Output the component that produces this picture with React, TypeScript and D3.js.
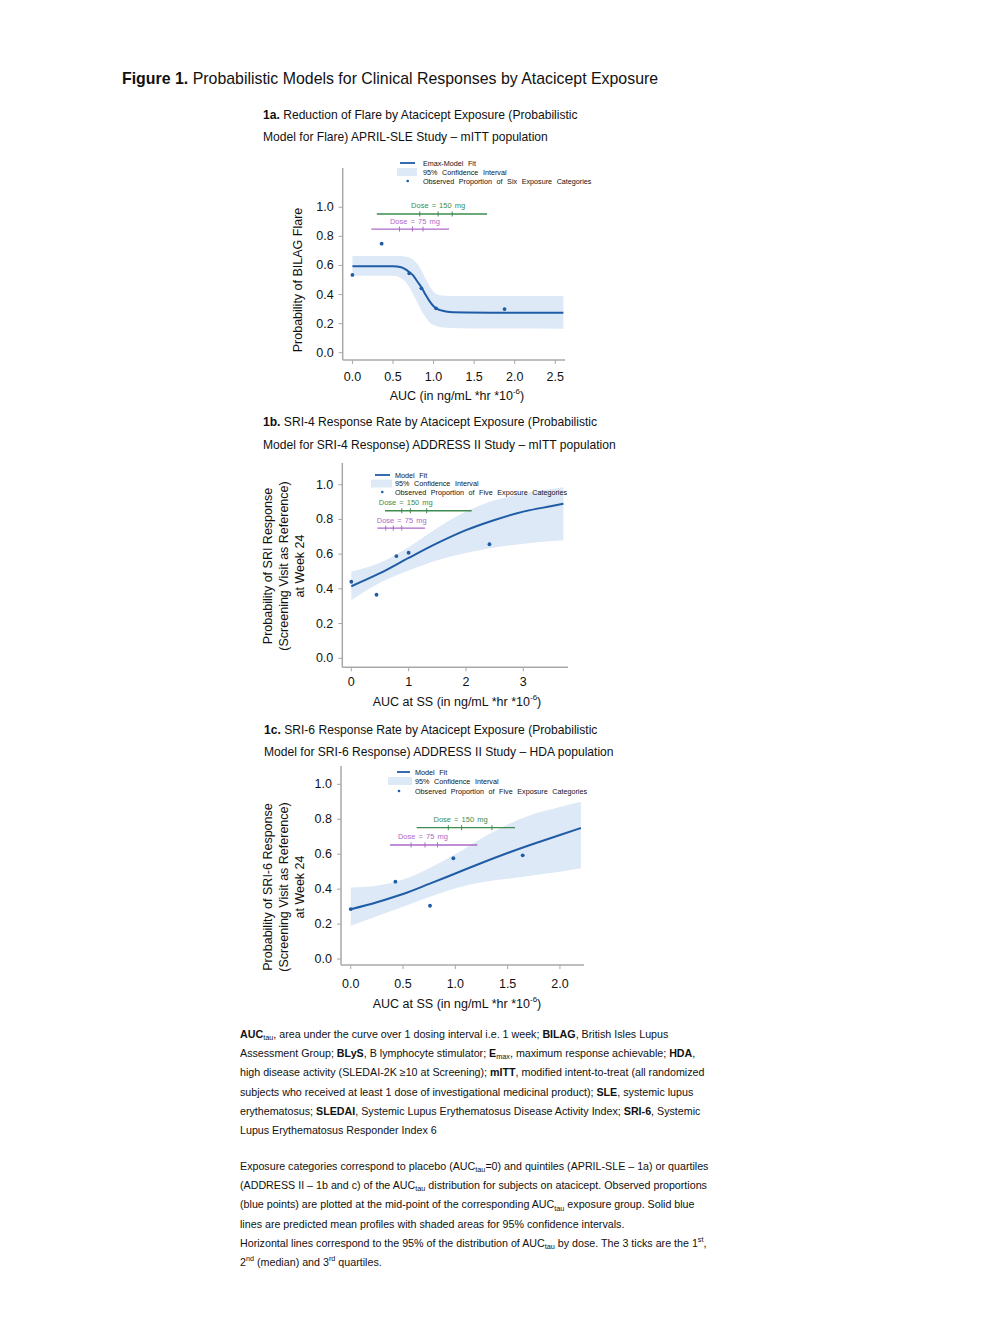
import React from "react";
import * as d3 from "d3";

const FONT = "'Liberation Sans', Arial, Helvetica, sans-serif";
const BLUE = "#1f5ca6";
const BAND = "#dde9f6";
const GREEN = "#3d8b4f";
const PURPLE = "#ad6ac9";
const AXIS = "#a8a8a8";

const yTicks = [0, 0.2, 0.4, 0.6, 0.8, 1.0];

// ---- 1a: flare, APRIL-SLE ----
const flareXTicks = [0, 0.5, 1, 1.5, 2, 2.5];
const flareFitX = [0, 0.3, 0.5, 0.6, 0.65, 0.7, 0.75, 0.8, 0.85, 0.9, 0.95, 1.0, 1.05, 1.1, 1.2, 1.4, 2.0, 2.6];
const flareFit = [0.595, 0.595, 0.595, 0.588, 0.575, 0.555, 0.53, 0.49, 0.45, 0.4, 0.355, 0.32, 0.3, 0.29, 0.28, 0.277, 0.275, 0.275];
const flareBandX = [0, 0.5, 0.55, 0.6, 0.65, 0.7, 0.75, 0.8, 0.85, 0.9, 0.95, 1.0, 1.05, 1.1, 1.2, 1.5, 2.6];
const flareBandLo = [0.53, 0.53, 0.525, 0.51, 0.49, 0.45, 0.4, 0.345, 0.29, 0.245, 0.21, 0.19, 0.18, 0.175, 0.17, 0.167, 0.165];
const flareBandHi = [0.665, 0.665, 0.665, 0.665, 0.662, 0.655, 0.64, 0.61, 0.565, 0.51, 0.46, 0.42, 0.4, 0.393, 0.39, 0.39, 0.39];
const flareObsX = [0, 0.36, 0.7, 0.85, 1.03, 1.875];
const flareObsY = [0.535, 0.75, 0.546, 0.443, 0.305, 0.3];
// 2.5%, Q1, median, Q3, 97.5% of AUC by dose
const flareDose150 = [0.3, 0.83, 1.056, 1.23, 1.66];
const flareDose75 = [0.233, 0.58, 0.74, 0.87, 1.19];

// ---- 1b: SRI-4, ADDRESS II mITT ----
const sri4XTicks = [0, 1, 2, 3];
const sri4FitX = [0, 0.5, 1, 1.5, 2, 2.5, 3, 3.5, 3.7];
const sri4Fit = [0.415, 0.49, 0.578, 0.663, 0.738, 0.797, 0.845, 0.877, 0.89];
const sri4BandLo = [0.335, 0.435, 0.505, 0.565, 0.607, 0.638, 0.66, 0.675, 0.68];
const sri4BandHi = [0.5, 0.55, 0.64, 0.75, 0.845, 0.91, 0.95, 0.975, 0.985];
const sri4ObsX = [0, 0.44, 0.786, 1.0, 2.41];
const sri4ObsY = [0.441, 0.366, 0.589, 0.608, 0.657];
const sri4Dose150 = [0.588, 0.88, 1.03, 1.315, 2.1];
const sri4Dose75 = [0.454, 0.6, 0.733, 0.88, 1.286];

// ---- 1c: SRI-6, ADDRESS II HDA ----
const sri6XTicks = [0, 0.5, 1, 1.5, 2];
const sri6FitX = [0, 0.25, 0.5, 0.75, 1.0, 1.25, 1.5, 1.75, 2.0, 2.2];
const sri6Fit = [0.285, 0.325, 0.372, 0.43, 0.49, 0.55, 0.607, 0.66, 0.71, 0.75];
const sri6BandLo = [0.19, 0.245, 0.3, 0.355, 0.405, 0.44, 0.46, 0.48, 0.5, 0.52];
const sri6BandHi = [0.41, 0.42, 0.455, 0.52, 0.6, 0.69, 0.77, 0.83, 0.87, 0.9];
const sri6ObsX = [0, 0.427, 0.758, 0.981, 1.644];
const sri6ObsY = [0.286, 0.443, 0.305, 0.577, 0.594];
const sri6Dose150 = [0.63, 0.933, 1.06, 1.35, 1.57];
const sri6Dose75 = [0.376, 0.577, 0.71, 0.83, 1.21];

const footnotes1 = [
  "*AUC*_{tau}, area under the curve over 1 dosing interval i.e. 1 week; *BILAG*, British Isles Lupus",
  "Assessment Group; *BLyS*, B lymphocyte stimulator; *E*_{max}, maximum response achievable; *HDA*,",
  "high disease activity (SLEDAI-2K \u226510 at Screening); *mITT*, modified intent-to-treat (all randomized",
  "subjects who received at least 1 dose of investigational medicinal product); *SLE*, systemic lupus",
  "erythematosus; *SLEDAI*, Systemic Lupus Erythematosus Disease Activity Index; *SRI-6*, Systemic",
  "Lupus Erythematosus Responder Index 6",
];
const footnotes2 = [
  "Exposure categories correspond to placebo (AUC_{tau}=0) and quintiles (APRIL-SLE \u2013 1a) or quartiles",
  "(ADDRESS II \u2013 1b and c) of the AUC_{tau} distribution for subjects on atacicept. Observed proportions",
  "(blue points) are plotted at the mid-point of the corresponding AUC_{tau} exposure group. Solid blue",
  "lines are predicted mean profiles with shaded areas for 95% confidence intervals.",
  "Horizontal lines correspond to the 95% of the distribution of AUC_{tau} by dose. The 3 ticks are the 1^{st},",
  "2^{nd} (median) and 3^{rd} quartiles.",
];

function Rich({ text, x, y, size }: { text: string; x: number; y: number; size: number }) {
  const parts = text.split(/(\*[^*]+\*|_\{[^}]+\}|\^\{[^}]+\})/).filter((p) => p !== "");
  let shift = 0;
  return (
    <text x={x} y={y} fontSize={size} fontFamily={FONT} dominantBaseline="central" fill="#111">
      {parts.map((p, i) => {
        let dy = 0;
        if (p.startsWith("_{") || p.startsWith("^{")) {
          const off = p.startsWith("_") ? size * 0.3 : -size * 0.38;
          dy = off - shift;
          shift = off;
          return (
            <tspan key={i} dy={dy} fontSize={size * 0.68}>
              {p.slice(2, -1)}
            </tspan>
          );
        }
        dy = -shift;
        shift = 0;
        if (p.startsWith("*")) {
          return (
            <tspan key={i} dy={dy} fontWeight="bold">
              {p.slice(1, -1)}
            </tspan>
          );
        }
        return (
          <tspan key={i} dy={dy}>
            {p}
          </tspan>
        );
      })}
    </text>
  );
}

interface PanelCfg {
  xDomain: [number, number];
  xRange: [number, number];
  yDomain: [number, number];
  yRange: [number, number];
  xTicks: number[];
  xFmt: string;
  xTickDy: number;
  fitX: number[];
  fit: number[];
  bandX: number[];
  bandLo: number[];
  bandHi: number[];
  obsX: number[];
  obsY: number[];
  doses: { q: number[]; y: number; labelX: number; label: string; color: string }[];
  legend: { lineX: [number, number]; bandX: [number, number]; dotX: number; textX: number; rows: number[]; labels: string[] };
  yLabel: string[];
  yLabelX: number[];
  yLabelY: number;
  xLabelPre: string;
  xLabelY: number;
}

const panels: PanelCfg[] = [
  {
    xDomain: [-0.12, 2.62],
    xRange: [342.7, 565],
    yDomain: [-0.05, 1.27],
    yRange: [360, 168],
    xTicks: flareXTicks,
    xFmt: ".1f",
    xTickDy: 17,
    fitX: flareFitX,
    fit: flareFit,
    bandX: flareBandX,
    bandLo: flareBandLo,
    bandHi: flareBandHi,
    obsX: flareObsX,
    obsY: flareObsY,
    doses: [
      { q: flareDose150, y: 0.954, labelX: 1.056, label: "Dose = 150 mg", color: GREEN },
      { q: flareDose75, y: 0.85, labelX: 0.77, label: "Dose = 75 mg", color: PURPLE },
    ],
    legend: {
      lineX: [400, 415],
      bandX: [397, 417],
      dotX: 407.7,
      textX: 423,
      rows: [163, 172, 181],
      labels: ["Emax-Model Fit", "95% Confidence Interval", "Observed Proportion of Six Exposure Categories"],
    },
    yLabel: ["Probability of BILAG Flare"],
    yLabelX: [298],
    yLabelY: 280,
    xLabelPre: "AUC (in ng/mL *hr *10",
    xLabelY: 396,
  },
  {
    xDomain: [-0.157, 3.78],
    xRange: [342.3, 568],
    yDomain: [-0.052, 1.125],
    yRange: [667.3, 463],
    xTicks: sri4XTicks,
    xFmt: "d",
    xTickDy: 15,
    fitX: sri4FitX,
    fit: sri4Fit,
    bandX: sri4FitX,
    bandLo: sri4BandLo,
    bandHi: sri4BandHi,
    obsX: sri4ObsX,
    obsY: sri4ObsY,
    doses: [
      { q: sri4Dose150, y: 0.85, labelX: 0.95, label: "Dose = 150 mg", color: GREEN },
      { q: sri4Dose75, y: 0.75, labelX: 0.88, label: "Dose = 75 mg", color: PURPLE },
    ],
    legend: {
      lineX: [375, 390],
      bandX: [371, 392],
      dotX: 382.3,
      textX: 395,
      rows: [475, 483.5, 492],
      labels: ["Model Fit", "95% Confidence Interval", "Observed Proportion of Five Exposure Categories"],
    },
    yLabel: ["Probability of SRI Response", "(Screening Visit as Reference)", "at Week 24"],
    yLabelX: [268, 284, 300],
    yLabelY: 566,
    xLabelPre: "AUC at SS (in ng/mL *hr *10",
    xLabelY: 702,
  },
  {
    xDomain: [-0.093, 2.23],
    xRange: [341, 584],
    yDomain: [-0.034, 1.105],
    yRange: [965, 766],
    xTicks: sri6XTicks,
    xFmt: ".1f",
    xTickDy: 19,
    fitX: sri6FitX,
    fit: sri6Fit,
    bandX: sri6FitX,
    bandLo: sri6BandLo,
    bandHi: sri6BandHi,
    obsX: sri6ObsX,
    obsY: sri6ObsY,
    doses: [
      { q: sri6Dose150, y: 0.752, labelX: 1.05, label: "Dose = 150 mg", color: GREEN },
      { q: sri6Dose75, y: 0.653, labelX: 0.69, label: "Dose = 75 mg", color: PURPLE },
    ],
    legend: {
      lineX: [397, 410],
      bandX: [388, 412],
      dotX: 399,
      textX: 415,
      rows: [772, 781, 791],
      labels: ["Model Fit", "95% Confidence Interval", "Observed Proportion of Five Exposure Categories"],
    },
    yLabel: ["Probability of SRI-6 Response", "(Screening Visit as Reference)", "at Week 24"],
    yLabelX: [268, 284, 300],
    yLabelY: 887,
    xLabelPre: "AUC at SS (in ng/mL *hr *10",
    xLabelY: 1004,
  },
];

function Panel({ cfg }: { cfg: PanelCfg }) {
  const x = d3.scaleLinear().domain(cfg.xDomain).range(cfg.xRange);
  const y = d3.scaleLinear().domain(cfg.yDomain).range(cfg.yRange);
  const fmtX = d3.format(cfg.xFmt);
  const fmtY = d3.format(".1f");

  const fitLine = d3
    .line<number>()
    .x((_, i) => x(cfg.fitX[i]))
    .y((d) => y(d))
    .curve(d3.curveMonotoneX);
  const band = d3
    .area<number>()
    .x((_, i) => x(cfg.bandX[i]))
    .y0((_, i) => y(cfg.bandLo[i]))
    .y1((_, i) => y(cfg.bandHi[i]))
    .curve(d3.curveMonotoneX);

  const x0 = x(cfg.xDomain[0]);
  const x1 = x(cfg.xDomain[1]);
  const yb = y(cfg.yDomain[0]);
  const yt = y(cfg.yDomain[1]);
  const lg = cfg.legend;

  return (
    <g fontFamily={FONT}>
      <path d={band(cfg.bandLo) ?? ""} fill={BAND} />

      {/* axes */}
      <line x1={x0} x2={x0} y1={yt} y2={yb} stroke={AXIS} strokeWidth={1.5} />
      <line x1={x0} x2={x1} y1={yb} y2={yb} stroke={AXIS} strokeWidth={1.5} />
      {yTicks.map((t) => (
        <g key={"y" + t}>
          <line x1={x0 - 4} x2={x0} y1={y(t)} y2={y(t)} stroke={AXIS} strokeWidth={1} />
          <text x={x0 - 9} y={y(t)} textAnchor="end" dominantBaseline="central" fontSize={12.5} fill="#111">
            {fmtY(t)}
          </text>
        </g>
      ))}
      {cfg.xTicks.map((t) => (
        <g key={"x" + t}>
          <line x1={x(t)} x2={x(t)} y1={yb} y2={yb + 4} stroke={AXIS} strokeWidth={1} />
          <text x={x(t)} y={yb + cfg.xTickDy} textAnchor="middle" dominantBaseline="central" fontSize={12.5} fill="#111">
            {fmtX(t)}
          </text>
        </g>
      ))}

      {/* dose ranges */}
      {cfg.doses.map((d) => (
        <g key={d.label}>
          <line x1={x(d.q[0])} x2={x(d.q[4])} y1={y(d.y)} y2={y(d.y)} stroke={d.color} strokeWidth={1.4} />
          {d.q.slice(1, 4).map((q, i) => (
            <line key={i} x1={x(q)} x2={x(q)} y1={y(d.y) - 2.5} y2={y(d.y) + 2.5} stroke={d.color} strokeWidth={1} />
          ))}
          <text x={x(d.labelX)} y={y(d.y) - 8} textAnchor="middle" dominantBaseline="central" fontSize={7.5} fill={d.color} wordSpacing={1}>
            {d.label}
          </text>
        </g>
      ))}

      <path d={fitLine(cfg.fit) ?? ""} fill="none" stroke={BLUE} strokeWidth={2} />
      {cfg.obsX.map((v, i) => (
        <circle key={i} cx={x(v)} cy={y(cfg.obsY[i])} r={1.9} fill={BLUE} />
      ))}

      {/* legend */}
      <line x1={lg.lineX[0]} x2={lg.lineX[1]} y1={lg.rows[0]} y2={lg.rows[0]} stroke={BLUE} strokeWidth={1.8} />
      <rect x={lg.bandX[0]} y={lg.rows[1] - 4} width={lg.bandX[1] - lg.bandX[0]} height={8} fill={BAND} />
      <circle cx={lg.dotX} cy={lg.rows[2]} r={1.3} fill={BLUE} />
      {lg.labels.map((l, i) => (
        <text key={l} x={lg.textX} y={lg.rows[i]} dominantBaseline="central" fontSize={7.2} wordSpacing={2.6} fill="#111">
          {l}
        </text>
      ))}

      {/* axis titles */}
      {cfg.yLabel.map((l, i) => (
        <text
          key={l}
          transform={`translate(${cfg.yLabelX[i]},${cfg.yLabelY}) rotate(-90)`}
          textAnchor="middle"
          dominantBaseline="central"
          fontSize={12.5}
          fill="#111"
        >
          {l}
        </text>
      ))}
      <text x={457} y={cfg.xLabelY} textAnchor="middle" dominantBaseline="central" fontSize={12.5} fill="#111">
        {cfg.xLabelPre}
        <tspan dy={-5} fontSize={8}>
          -6
        </tspan>
        <tspan dy={5}>)</tspan>
      </text>
    </g>
  );
}

const subtitles = [
  { x: 263, y: 115, text: "*1a.* Reduction of Flare by Atacicept Exposure (Probabilistic" },
  { x: 263, y: 137, text: "Model for Flare) APRIL-SLE Study \u2013 mITT population" },
  { x: 263, y: 422, text: "*1b.* SRI-4 Response Rate by Atacicept Exposure (Probabilistic" },
  { x: 263, y: 445, text: "Model for SRI-4 Response) ADDRESS II Study \u2013 mITT population" },
  { x: 264, y: 730, text: "*1c.* SRI-6 Response Rate by Atacicept Exposure (Probabilistic" },
  { x: 264, y: 752, text: "Model for SRI-6 Response) ADDRESS II Study \u2013 HDA population" },
];

export default function App() {
  return (
    <svg
      width={1008}
      height={1344}
      style={{ position: "absolute", left: 0, top: 0, display: "block", background: "#fff" }}
    >
      <rect width={1008} height={1344} fill="#fff" />
      <Rich x={122} y={78} size={15.9} text="*Figure 1.* Probabilistic Models for Clinical Responses by Atacicept Exposure" />
      {subtitles.map((s) => (
        <Rich key={s.text} x={s.x} y={s.y} size={12.1} text={s.text} />
      ))}
      {panels.map((p, i) => (
        <Panel key={i} cfg={p} />
      ))}
      {footnotes1.map((t, i) => (
        <Rich key={t} x={240} y={1034 + i * 19.2} size={10.7} text={t} />
      ))}
      {footnotes2.map((t, i) => (
        <Rich key={t} x={240} y={1166 + i * 19.2} size={10.7} text={t} />
      ))}
    </svg>
  );
}
